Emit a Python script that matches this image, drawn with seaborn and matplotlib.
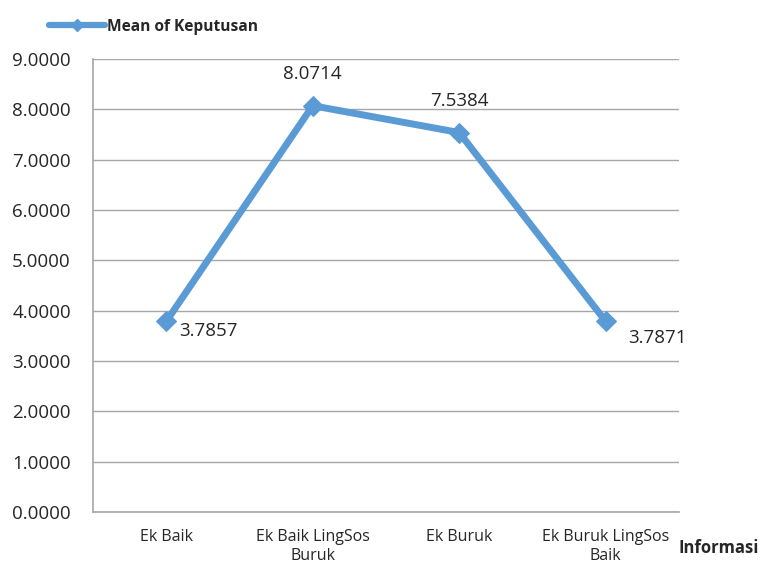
import matplotlib
matplotlib.use("Agg")
import matplotlib.pyplot as plt
from matplotlib.lines import Line2D
import seaborn as sns
import pandas as pd

categories = ["Ek Baik", "Ek Baik LingSos\nBuruk", "Ek Buruk", "Ek Buruk LingSos\nBaik"]
mean_keputusan = [3.7857, 8.0714, 7.5384, 3.7871]
y_ticks = [0, 1, 2, 3, 4, 5, 6, 7, 8, 9]

df = pd.DataFrame({"Informasi": categories, "Mean": mean_keputusan})

sns.set_theme(style="white")
plt.rcParams["font.family"] = ["Open Sans", "DejaVu Sans"]

line_color = "#5B9BD5"
grid_color = "#A6A6A6"

fig = plt.figure(figsize=(7.64, 5.65), dpi=100)
ax = fig.add_axes([0.1217, 0.0938, 0.7670, 0.8018])

sns.lineplot(data=df, x="Informasi", y="Mean", ax=ax, color=line_color,
             linewidth=5, marker="D", markersize=10, markeredgecolor=line_color,
             sort=False, legend=False)

ax.set_xlim(-0.5, len(categories) - 0.5)
ax.set_ylim(0, 9)
ax.set_yticks(y_ticks)
ax.set_yticklabels([f"{v:.4f}" for v in y_ticks], fontsize=13.5)
ax.yaxis.grid(True, color=grid_color, linewidth=1)
ax.set_axisbelow(True)

# category labels sit between the boundary ticks
ax.set_xticks([i - 0.5 for i in range(len(categories) + 1)])
ax.set_xticklabels([])
ax.set_xticks(range(len(categories)), minor=True)
ax.set_xticklabels(categories, minor=True, fontsize=11.5, linespacing=1.3)
ax.tick_params(axis="x", which="major", length=6, width=1, color=grid_color, direction="out")
ax.tick_params(axis="x", which="minor", length=0, pad=12)
ax.tick_params(axis="y", length=6, width=1, color=grid_color, direction="out", pad=10)
ax.set_xlabel("")
ax.set_ylabel("")

for side in ["top", "right"]:
    ax.spines[side].set_visible(False)
for side in ["left", "bottom"]:
    ax.spines[side].set_color(grid_color)
    ax.spines[side].set_linewidth(1.2)

# value labels
offsets = [(9, -7, "left"), (0, 23, "center"), (0, 23, "center"), (16, -12, "left")]
for i, (v, (dx, dy, ha)) in enumerate(zip(mean_keputusan, offsets)):
    ax.annotate(f"{v:.4f}", (i, v), xytext=(dx, dy), textcoords="offset points",
                ha=ha, va="center", fontsize=13.5)

handle = Line2D([], [], color=line_color, linewidth=4.5, marker="D", markersize=6,
                markeredgecolor=line_color, solid_capstyle="round")
ax.legend([handle], ["Mean of Keputusan"], loc="center left",
          bbox_to_anchor=(-0.075, 1.071), frameon=False,
          handlelength=3.6, handletextpad=0.1, borderaxespad=0, borderpad=0,
          prop={"weight": "bold", "size": 11.2})

fig.text(0.888, 0.030, "Informasi", fontsize=12, fontweight="bold", ha="left", va="center")

fig.savefig("out.png", dpi=100)
